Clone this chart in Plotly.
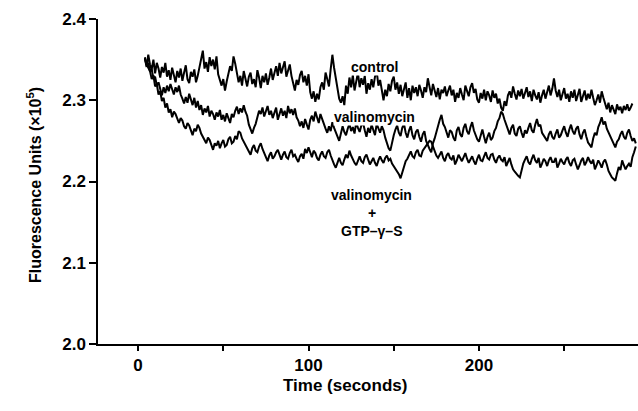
import plotly.graph_objects as go

# one reading per second from t = 4 s (x 10^5 fluorescence units)
time_s = list(range(4, 293))

control = [
    2.352, 2.341, 2.356, 2.344, 2.338, 2.350, 2.333, 2.346, 2.339, 2.328,
    2.341, 2.334, 2.346, 2.329, 2.337, 2.325, 2.340, 2.331, 2.322, 2.336,
    2.328, 2.339, 2.324, 2.334, 2.343, 2.326, 2.321, 2.335, 2.329, 2.338,
    2.322, 2.330, 2.341, 2.352, 2.361, 2.339, 2.347, 2.335, 2.353, 2.342,
    2.350, 2.338, 2.354, 2.332, 2.325, 2.318, 2.326, 2.312, 2.323, 2.333,
    2.342, 2.336, 2.354, 2.345, 2.331, 2.322, 2.330, 2.318, 2.336, 2.325,
    2.317, 2.329, 2.334, 2.320, 2.326, 2.316, 2.337, 2.328, 2.315, 2.330,
    2.322, 2.333, 2.319, 2.328, 2.339, 2.325, 2.334, 2.342, 2.330, 2.346,
    2.333, 2.340, 2.348, 2.329, 2.337, 2.344, 2.330, 2.320, 2.312, 2.325,
    2.319, 2.331, 2.336, 2.322, 2.330, 2.318, 2.332, 2.310, 2.302, 2.311,
    2.298, 2.308, 2.301, 2.316, 2.322, 2.313, 2.334, 2.326, 2.317, 2.338,
    2.356, 2.340, 2.328, 2.312, 2.302, 2.297, 2.305, 2.294, 2.318, 2.308,
    2.328, 2.316, 2.331, 2.312, 2.325, 2.334, 2.316, 2.327, 2.319, 2.330,
    2.308, 2.321, 2.313, 2.326, 2.316, 2.329, 2.336, 2.318, 2.325, 2.309,
    2.300, 2.313, 2.305, 2.320, 2.311, 2.324, 2.329, 2.313, 2.322, 2.308,
    2.319, 2.305, 2.314, 2.322, 2.303, 2.315, 2.300, 2.318, 2.309, 2.316,
    2.305, 2.319, 2.312, 2.303, 2.316, 2.310, 2.327, 2.314, 2.306, 2.320,
    2.312, 2.304, 2.315, 2.301, 2.313, 2.309, 2.317, 2.305, 2.312, 2.318,
    2.306, 2.313, 2.298, 2.309, 2.303, 2.315, 2.307, 2.300, 2.318, 2.311,
    2.305, 2.316, 2.321, 2.309, 2.314, 2.301, 2.297, 2.309, 2.302, 2.313,
    2.300, 2.311, 2.306, 2.298, 2.312, 2.303, 2.308, 2.296, 2.302, 2.291,
    2.287, 2.299, 2.293, 2.306, 2.311, 2.303, 2.317, 2.308, 2.301, 2.312,
    2.305, 2.314, 2.302, 2.309, 2.316, 2.304, 2.311, 2.299, 2.313, 2.306,
    2.301, 2.310, 2.297, 2.306, 2.313, 2.302, 2.309, 2.318, 2.306, 2.314,
    2.327, 2.312, 2.304, 2.313, 2.300, 2.309, 2.315, 2.302, 2.308, 2.298,
    2.311, 2.303, 2.313, 2.299, 2.307, 2.314, 2.298, 2.306, 2.312, 2.300,
    2.308, 2.302, 2.313, 2.303, 2.294, 2.300, 2.307, 2.297, 2.311, 2.303,
    2.295, 2.289, 2.297, 2.285, 2.294, 2.289, 2.283, 2.295, 2.288, 2.292,
    2.284, 2.293, 2.288, 2.295, 2.287, 2.291, 2.296,
]

valinomycin = [
    2.351, 2.343, 2.346, 2.335, 2.339, 2.326, 2.329, 2.318, 2.322, 2.312,
    2.306, 2.316, 2.309, 2.318, 2.311, 2.320, 2.313, 2.307, 2.316, 2.310,
    2.318, 2.307, 2.302, 2.296, 2.304, 2.297, 2.308, 2.299, 2.294, 2.303,
    2.291, 2.299, 2.288, 2.294, 2.282, 2.290, 2.285, 2.293, 2.280, 2.287,
    2.283, 2.276, 2.285, 2.280, 2.288, 2.276, 2.282, 2.274, 2.284, 2.278,
    2.272, 2.283, 2.279, 2.287, 2.292, 2.283, 2.290, 2.285, 2.294, 2.286,
    2.281, 2.270, 2.264, 2.259, 2.266, 2.271, 2.279, 2.287, 2.283, 2.291,
    2.280, 2.288, 2.293, 2.282, 2.287, 2.278, 2.285, 2.291, 2.276, 2.284,
    2.290, 2.281, 2.287, 2.278, 2.293, 2.284, 2.289, 2.282, 2.290, 2.279,
    2.275, 2.268, 2.274, 2.266, 2.277, 2.270, 2.264, 2.276, 2.281, 2.274,
    2.286, 2.279, 2.272, 2.283, 2.277, 2.269, 2.265, 2.260, 2.268, 2.262,
    2.273, 2.266, 2.260, 2.255, 2.250, 2.259, 2.268, 2.261, 2.257, 2.265,
    2.271, 2.262, 2.267, 2.259, 2.273, 2.266, 2.261, 2.269, 2.272, 2.263,
    2.255, 2.266, 2.260, 2.270, 2.262, 2.257, 2.271, 2.266, 2.260, 2.268,
    2.263, 2.254, 2.246, 2.241, 2.238, 2.250, 2.257, 2.264, 2.269, 2.260,
    2.256, 2.266, 2.271, 2.260, 2.254, 2.263, 2.268, 2.257, 2.252, 2.261,
    2.264, 2.255, 2.249, 2.258, 2.262, 2.250, 2.244, 2.240, 2.236, 2.247,
    2.253, 2.262, 2.267, 2.276, 2.282, 2.271, 2.267, 2.259, 2.254, 2.263,
    2.261, 2.254, 2.250, 2.263, 2.267, 2.258, 2.255, 2.266, 2.271, 2.262,
    2.258, 2.267, 2.273, 2.263, 2.257, 2.252, 2.249, 2.258, 2.264, 2.255,
    2.247, 2.255, 2.260, 2.251, 2.254, 2.262, 2.266, 2.274, 2.278, 2.286,
    2.283, 2.276, 2.270, 2.262, 2.258, 2.266, 2.270, 2.259, 2.256, 2.265,
    2.268, 2.260, 2.254, 2.263, 2.259, 2.266, 2.272, 2.263, 2.260, 2.270,
    2.277, 2.268, 2.270, 2.260, 2.256, 2.253, 2.250, 2.258, 2.262, 2.255,
    2.252, 2.259, 2.264, 2.254, 2.257, 2.263, 2.268, 2.260, 2.255, 2.264,
    2.270, 2.262, 2.258, 2.265, 2.268, 2.258, 2.252, 2.260, 2.264, 2.255,
    2.248, 2.245, 2.242, 2.253, 2.260, 2.257, 2.267, 2.272, 2.279, 2.270,
    2.274, 2.265, 2.260, 2.255, 2.250, 2.247, 2.242, 2.249, 2.252, 2.258,
    2.262, 2.255, 2.252, 2.260, 2.264, 2.256, 2.250, 2.253, 2.247,
]

valino_gtp = [
    2.353, 2.344, 2.340, 2.336, 2.326, 2.331, 2.317, 2.320, 2.307, 2.311,
    2.299, 2.303, 2.291, 2.296, 2.285, 2.289, 2.279, 2.286, 2.283, 2.276,
    2.272, 2.278, 2.275, 2.268, 2.265, 2.272, 2.269, 2.263, 2.257, 2.265,
    2.262, 2.270, 2.266, 2.259, 2.255, 2.251, 2.247, 2.254, 2.251, 2.245,
    2.239, 2.247, 2.244, 2.250, 2.241, 2.247, 2.251, 2.243, 2.245, 2.252,
    2.255, 2.247, 2.249, 2.256, 2.252, 2.262, 2.260, 2.253, 2.249, 2.244,
    2.240, 2.236, 2.233, 2.241, 2.245, 2.238, 2.236, 2.243, 2.247, 2.240,
    2.235, 2.229, 2.225, 2.232, 2.236, 2.228, 2.231, 2.236, 2.239, 2.233,
    2.227, 2.233, 2.237, 2.230, 2.228, 2.235, 2.239, 2.231, 2.233, 2.228,
    2.224, 2.231, 2.234, 2.228, 2.240, 2.235, 2.242, 2.236, 2.230, 2.238,
    2.235, 2.229, 2.226, 2.233, 2.237, 2.231, 2.229, 2.236, 2.239, 2.232,
    2.225, 2.221, 2.217, 2.224, 2.229, 2.223, 2.220, 2.227, 2.233, 2.229,
    2.238, 2.232, 2.227, 2.223, 2.220, 2.227, 2.231, 2.225, 2.223, 2.230,
    2.233, 2.227, 2.221, 2.225, 2.229, 2.223, 2.219, 2.226, 2.231, 2.226,
    2.223, 2.229, 2.232, 2.226, 2.228, 2.222, 2.219, 2.215, 2.213, 2.209,
    2.204, 2.211, 2.219, 2.225, 2.228, 2.233, 2.237, 2.231, 2.229, 2.236,
    2.239, 2.232, 2.231, 2.238, 2.241, 2.244, 2.247, 2.250, 2.249, 2.243,
    2.237, 2.232, 2.229, 2.234, 2.237, 2.229, 2.225, 2.232, 2.235, 2.229,
    2.227, 2.232, 2.221, 2.226, 2.233, 2.229, 2.225, 2.230, 2.235, 2.228,
    2.223, 2.227, 2.231, 2.225, 2.221, 2.228, 2.233, 2.226, 2.225, 2.231,
    2.236, 2.229, 2.227, 2.233, 2.234, 2.227, 2.223, 2.229, 2.232, 2.227,
    2.225, 2.230, 2.219, 2.224, 2.229, 2.221, 2.215, 2.212, 2.209, 2.207,
    2.205, 2.214, 2.222, 2.227, 2.231, 2.224, 2.221, 2.228, 2.233, 2.226,
    2.223, 2.229, 2.217, 2.222, 2.228, 2.225, 2.219, 2.226, 2.230, 2.224,
    2.224, 2.229, 2.217, 2.222, 2.228, 2.224, 2.221, 2.227, 2.230, 2.223,
    2.219, 2.226, 2.228, 2.221, 2.215, 2.220, 2.226, 2.229, 2.220, 2.224,
    2.230, 2.225, 2.222, 2.227, 2.215, 2.220, 2.226, 2.222, 2.217, 2.224,
    2.227, 2.221, 2.213, 2.209, 2.205, 2.203, 2.201, 2.210, 2.218, 2.214,
    2.226, 2.220, 2.215, 2.219, 2.222, 2.218, 2.230, 2.236, 2.243,
]

FONT = "Liberation Sans, Arial, sans-serif"

fig = go.Figure()
for vals in (control, valinomycin, valino_gtp):
    fig.add_trace(go.Scatter(x=time_s[:len(vals)], y=vals, mode="lines",
                             line=dict(color="black", width=2),
                             showlegend=False, hoverinfo="skip"))

labels = [
    ("control", 138.5, 2.341, True),
    ("valinomycin", 139, 2.279, True),
    ("valinomycin", 137, 2.183, False),
    ("+", 137, 2.161, False),
    ("GTP\u2013\u03b3\u2013S", 137, 2.139, False),
]
for txt, x, y, boxed in labels:
    fig.add_annotation(x=x, y=y, text=txt, showarrow=False,
                       font=dict(family=FONT, size=14, color="black", weight="bold"),
                       bgcolor="white" if boxed else None, borderpad=0)

fig.add_annotation(xref="paper", yref="paper", x=(345 - 98) / 540, y=-53 / 325,
                   text="Time (seconds)", showarrow=False,
                   font=dict(family=FONT, size=17, color="black", weight="bold"))
fig.add_annotation(xref="paper", yref="paper", x=-76 / 540, y=159 / 325,
                   text="Fluorescence Units (\u00d710<sup>5</sup>)", showarrow=False,
                   textangle=-90,
                   font=dict(family=FONT, size=16, color="black", weight="bold"))

fig.update_layout(
    width=638, height=411,
    margin=dict(l=98, r=0, t=19, b=67),
    paper_bgcolor="white", plot_bgcolor="white",
    font=dict(family=FONT, size=17, color="black", weight="bold"),
)
fig.update_xaxes(range=[-23.5, 293.3], tickvals=[0, 100, 200],
                 ticks="outside", ticklen=5, tickwidth=1.5, tickcolor="black",
                 minor=dict(tickvals=[50, 150, 250], ticks="outside", ticklen=5,
                            tickwidth=1.5, tickcolor="black"),
                 showline=True, linecolor="black", linewidth=1.5,
                 showgrid=False, zeroline=False)
fig.update_yaxes(range=[2.0, 2.4], tickvals=[2.0, 2.1, 2.2, 2.3, 2.4],
                 ticktext=["2.0", "2.1", "2.2", "2.3", "2.4"],
                 ticks="outside", ticklen=7, tickwidth=1.5, tickcolor="black",
                 showline=True, linecolor="black", linewidth=1.5,
                 showgrid=False, zeroline=False)

fig.write_html("out.html", config={"displayModeBar": False},
               post_script="document.body.style.margin = '0';")
